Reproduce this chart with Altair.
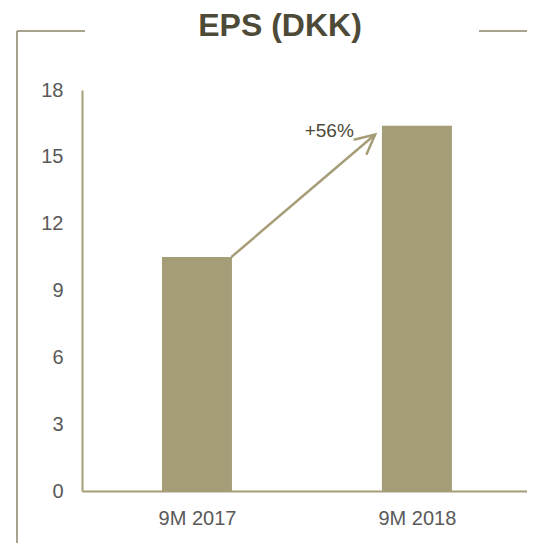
import json
import altair as alt
import pandas as pd

# ---- data ----
categories = ["9M 2017", "9M 2018"]
positions = [0.5, 1.5]
eps = [10.5, 16.4]
y_ticks = [0, 3, 6, 9, 12, 15, 18]

# growth arrow (data coordinates) and its label
arrow_start = [0.656, 10.5]
arrow_end = [1.31, 16.0]
growth_label = ["+56%"]
growth_label_pos = [1.213, 15.9]

title_text = "EPS (DKK)"

BAR = "#A59D78"
LINE = "#8A8466"
TEXT = "#595959"
DARK = "#4D4A38"
FONT = "Liberation Sans"

W, H = 445, 401

bars_df = pd.DataFrame({"cat": categories, "pos": positions, "eps": eps})
arrow_df = pd.DataFrame({"x": [arrow_start[0]], "y": [arrow_start[1]],
                         "x2": [arrow_end[0]], "y2": [arrow_end[1]]})
head_df = pd.DataFrame({"x": [arrow_end[0]], "y": [arrow_end[1]]})
label_df = pd.DataFrame({"x": [growth_label_pos[0]], "y": [growth_label_pos[1]],
                         "t": growth_label})
one = pd.DataFrame({"a": [0]})

xscale = alt.Scale(domain=[0, W / 225])
yscale = alt.Scale(domain=[0, 18])

label_expr = f"{json.dumps(categories)}[floor(datum.value)]"

bars = alt.Chart(bars_df).mark_bar(size=70, color=BAR).encode(
    x=alt.X("pos:Q", scale=xscale,
            axis=alt.Axis(values=positions, labelExpr=label_expr, title=None,
                          grid=False, ticks=False, domainColor=BAR, domainWidth=2,
                          labelFontSize=20, labelColor=TEXT, labelPadding=17,
                          labelFont=FONT)),
    y=alt.Y("eps:Q", scale=yscale,
            axis=alt.Axis(values=y_ticks, title=None, grid=False, ticks=False,
                          domainColor=BAR, domainWidth=2, labelFontSize=20,
                          labelColor=TEXT, labelPadding=19, labelFont=FONT)),
)

arrow = alt.Chart(arrow_df).mark_rule(color=BAR, strokeWidth=2.5).encode(
    x=alt.X("x:Q", scale=xscale), y=alt.Y("y:Q", scale=yscale),
    x2="x2:Q", y2="y2:Q",
)

head = alt.Chart(head_df).mark_point(
    shape="M -1 -0.5 L 0 0 L -1 0.5", filled=False, size=1550, angle=320,
    strokeWidth=2.5, color=BAR, opacity=1,
).encode(x=alt.X("x:Q", scale=xscale), y=alt.Y("y:Q", scale=yscale))

label = alt.Chart(label_df).mark_text(
    align="right", baseline="alphabetic", fontSize=19, color=DARK, font=FONT,
).encode(x=alt.X("x:Q", scale=xscale), y=alt.Y("y:Q", scale=yscale), text="t:N")

title = alt.Chart(one).mark_text(
    text=title_text, align="center", baseline="alphabetic", fontSize=32,
    fontWeight="bold", color=DARK, font=FONT,
).encode(x=alt.value(198), y=alt.value(-54))

frame_left = alt.Chart(one).mark_rule(color=LINE, strokeWidth=1.5).encode(
    x=alt.value(-65), x2=alt.value(3), y=alt.value(-59))
frame_right = alt.Chart(one).mark_rule(color=LINE, strokeWidth=1.5).encode(
    x=alt.value(397), x2=alt.value(W), y=alt.value(-59))
frame_vert = alt.Chart(one).mark_rule(color=LINE, strokeWidth=1.5).encode(
    x=alt.value(-65), y=alt.value(-59), y2=alt.value(H + 52))

chart = alt.layer(
    bars, arrow, head, label, title, frame_left, frame_right, frame_vert
).properties(
    width=W, height=H,
    autosize=alt.AutoSizeParams(type="none"),
    padding={"left": 74, "top": 82, "right": 0, "bottom": 52},
    background="white",
).configure_view(stroke=None)

chart.save("out.html", embed_options={"renderer": "svg", "actions": False})
